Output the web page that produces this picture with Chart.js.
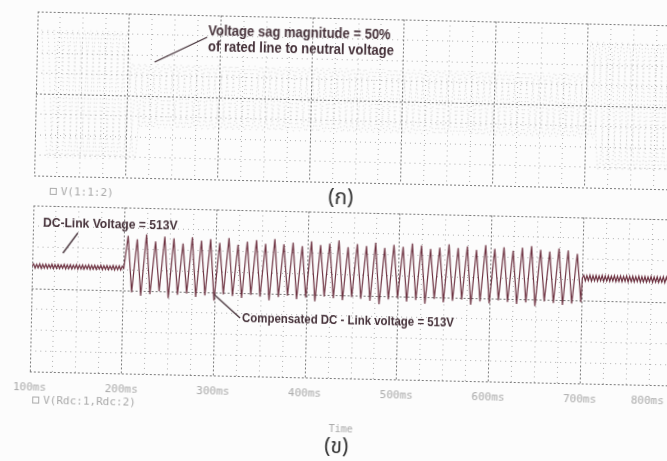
<!DOCTYPE html>
<html>
<head>
<meta charset="utf-8">
<script src="https://cdn.jsdelivr.net/npm/chart.js@4.4.1/dist/chart.umd.min.js"></script>
<style>
  html, body { margin: 0; padding: 0; background: #fcfcfc; overflow: hidden; width: 667px; height: 461px; }
  #page { position: absolute; left: 0; top: 0; width: 667px; height: 461px; transform: rotate(1.25deg); transform-origin: 333px 230px; }
  canvas { position: absolute; left: 0; }
  #top { top: 0; }
  #bot { top: 205px; }
  .note { position: absolute; font-family: "Liberation Sans", Arial, sans-serif; font-weight: bold; color: #46323a; white-space: nowrap; line-height: 16px; transform: scaleX(0.93); transform-origin: 0 0; }
  .faint { position: absolute; font-family: "DejaVu Sans Mono", monospace; color: #aaa; font-size: 11px; white-space: nowrap; }
  .cap { position: absolute; width: 80px; text-align: center; font-family: "Noto Sans Thai", "Noto Serif Thai", "Loma", "Garuda", serif; font-size: 21px; line-height: 24px; color: #333; }
  .sq { display: inline-block; width: 5px; height: 5px; border: 1px solid #aaa; margin-right: 4px; }
  svg { position: absolute; left: 0; top: 0; }
</style>
</head>
<body>
<div id="page">
  <canvas id="top" width="690" height="190"></canvas>
  <canvas id="bot" width="690" height="200"></canvas>

  <div class="note" style="left:204px;top:25px;font-size:14px">Voltage sag magnitude = 50%<br>of rated line to neutral voltage</div>
  <div class="note" style="left:43px;top:221px;font-size:13px">DC-Link Voltage = 513V</div>
  <div class="note" style="left:244px;top:312px;font-size:12.3px">Compensated DC - Link voltage = 513V</div>

  <div class="faint" style="left:49px;top:191px"><span class="sq"></span>V(1:1:2)</div>
  <div class="faint" style="left:36px;top:400px"><span class="sq"></span>V(Rdc:1,Rdc:2)</div>
  <div class="faint" style="left:333px;top:423px;font-size:10px">Time</div>

  <div class="cap" style="left:300px;top:186px">(ก)</div>
  <div class="cap" style="left:301px;top:435px">(ข)</div>

  <svg width="667" height="461">
    <line x1="151" y1="66" x2="203" y2="40" stroke="#46323a" stroke-width="1.3"/>
    <line x1="63.5" y1="259" x2="78" y2="238.5" stroke="#46323a" stroke-width="1.3"/>
    <line x1="242" y1="320" x2="216" y2="297.5" stroke="#46323a" stroke-width="1.3"/>
  </svg>
</div>

<script>
(function () {
  'use strict';

  // --- Data ---

  // x axis tick labels (ms)
  var timeTicks = [100, 200, 300, 400, 500, 600, 700, 800];

  // supply voltage, peak per 20 ms cycle as a fraction of rated (100 ms .. 800 ms)
  var sagEnvelope = [1, 1, 1, 1, 1,
    0.5, 0.5, 0.5, 0.5, 0.5, 0.5, 0.5, 0.5, 0.5, 0.5, 0.5, 0.5, 0.5, 0.5, 0.5, 0.5, 0.5, 0.5, 0.5, 0.5, 0.5, 0.5, 0.5, 0.5, 0.5,
    1, 1, 1, 1, 1];
  var ratedPeak = 311;
  var phaseShiftMs = [0, 6.67, 13.33];

  // DC link before the sag, 300 Hz ripple samples (100 .. 200 ms)
  var flatBefore = [513.6, 514.8, 512.3, 514.6, 512.5, 514.9, 512.2, 514.7, 512.4, 514.8, 512.3, 514.6, 512.5, 514.9, 512.2,
    514.7, 512.4, 514.8, 512.3, 514.6, 512.5, 514.9, 512.2, 514.7, 512.4, 514.8, 512.3, 514.6, 512.5, 514.9, 512.2,
    514.7, 512.4, 514.8, 512.3, 514.6, 512.5, 514.9, 512.2, 514.7, 512.4, 514.8, 512.3, 514.6, 512.5, 514.9, 512.2,
    514.7, 512.4, 514.8, 512.3, 514.6, 512.5, 514.9, 512.2, 514.7, 512.4, 514.8, 512.3, 514.6, 513.4];

  // compensated DC link during the sag, one peak and one trough per 10 ms (200 .. 700 ms)
  var compPeaks = [533, 531, 534, 530, 533, 532, 529, 533, 531, 532, 530, 533, 529, 531, 532, 530, 533, 530, 531, 529,
    532, 530, 531, 533, 529, 531, 530, 532, 529, 531, 530, 532, 531, 529, 530, 532, 530, 531, 529, 532,
    530, 531, 529, 531, 532, 530, 529, 531, 530, 528];
  var compTroughs = [499, 497, 498, 500, 496, 498, 499, 497, 498, 495, 499, 498, 497, 499, 498, 496, 498, 499, 497, 498,
    496, 499, 498, 497, 499, 498, 497, 495, 498, 499, 497, 498, 496, 499, 497, 498, 499, 496, 498, 497,
    499, 498, 497, 498, 496, 499, 498, 497, 498, 499];

  // DC link after the sag (700 .. 800 ms)
  var flatAfter = [513.5, 515.2, 511.9, 515.0, 512.1, 515.3, 511.8, 515.1, 512.0, 515.2, 511.9, 515.0, 512.1, 515.3, 511.8,
    515.1, 512.0, 515.2, 511.9, 515.0, 512.1, 515.3, 511.8, 515.1, 512.0, 515.2, 511.9, 515.0, 512.1, 515.3, 511.8,
    515.1, 512.0, 515.2, 511.9, 515.0, 512.1, 515.3, 511.8, 515.1, 512.0, 515.2, 511.9, 515.0, 512.1, 515.3, 511.8,
    515.1, 512.0, 515.2, 511.9, 515.0, 512.1, 515.3, 511.8, 515.1, 512.0, 515.2, 511.9, 515.0, 513.5];

  // --- Build points ---

  var RIPPLE_STEP = 100 / 60;

  function phasePoints(shift) {
    var pts = [];
    sagEnvelope.forEach(function (env, k) {
      var t0 = 100 + 20 * k + shift;
      pts.push({ x: t0 + 5, y: ratedPeak * env });
      pts.push({ x: t0 + 15, y: -ratedPeak * env });
    });
    return pts;
  }

  var dcPoints = [];
  flatBefore.forEach(function (v, i) { dcPoints.push({ x: 100 + i * RIPPLE_STEP, y: v }); });
  compPeaks.forEach(function (p, k) {
    dcPoints.push({ x: 200 + 10 * k + 4, y: p });
    dcPoints.push({ x: 200 + 10 * k + 9, y: compTroughs[k] });
  });
  flatAfter.forEach(function (v, i) { dcPoints.push({ x: 700 + i * RIPPLE_STEP, y: v }); });

  // --- Shared axis styling ---

  function xAxis() {
    return {
      type: 'linear', min: 100, max: 800,
      ticks: { display: false, stepSize: 25 },
      grid: {
        drawTicks: false,
        color: function (c) { return c.tick && c.tick.value % 100 === 0 ? '#7a7a7a' : '#b0b0b0'; }
      },
      border: {
        display: false,
        dash: function (c) { return c.tick && c.tick.value % 100 === 0 ? [2, 2] : [1, 4]; }
      }
    };
  }

  function yAxis(min, max, step, major) {
    return {
      min: min, max: max,
      ticks: { display: false, stepSize: step },
      grid: {
        drawTicks: false,
        color: function (c) { return c.tick && major.indexOf(c.tick.value) >= 0 ? '#7a7a7a' : '#b0b0b0'; }
      },
      border: {
        display: false,
        dash: function (c) { return c.tick && major.indexOf(c.tick.value) >= 0 ? [2, 2] : [1, 4]; }
      }
    };
  }

  var timeLabels = {
    id: 'timeLabels',
    afterDraw: function (chart) {
      var sx = chart.scales.x;
      var c = chart.ctx;
      c.save();
      c.font = '11px "DejaVu Sans Mono", monospace';
      c.fillStyle = '#aaaaaa';
      c.textAlign = 'center';
      c.textBaseline = 'middle';
      timeTicks.forEach(function (v) {
        var x = Math.min(sx.getPixelForValue(v), 651);
        c.fillText(v + 'ms', x, chart.chartArea.bottom + 16);
      });
      c.restore();
    }
  };

  var common = {
    responsive: false,
    animation: false,
    plugins: { legend: { display: false }, tooltip: { enabled: false } },
    elements: { point: { radius: 0 } }
  };

  // --- Top: supply voltage with sag ---

  new Chart(document.getElementById('top'), {
    type: 'line',
    data: {
      datasets: phaseShiftMs.map(function (s) {
        return {
          data: phasePoints(s),
          borderColor: 'rgba(105,105,105,0.28)',
          borderWidth: 1,
          borderDash: [1, 3],
          tension: 0.4
        };
      })
    },
    options: Object.assign({}, common, {
      layout: { padding: { left: 33, top: 18, right: 15, bottom: 8 } },
      scales: { x: xAxis(), y: yAxis(-400, 400, 100, [-400, 0, 400]) }
    })
  });

  // --- Bottom: DC link voltage ---

  new Chart(document.getElementById('bot'), {
    type: 'line',
    data: {
      datasets: [{
        data: dcPoints,
        borderColor: '#6e3342',
        borderWidth: 1.2,
        tension: 0
      }]
    },
    options: Object.assign({}, common, {
      layout: { padding: { left: 33, top: 7, right: 15, bottom: 27 } },
      scales: { x: xAxis(), y: yAxis(450, 550, 12.5, [450, 500, 550]) }
    }),
    plugins: [timeLabels]
  });
})();
</script>
</body>
</html>
